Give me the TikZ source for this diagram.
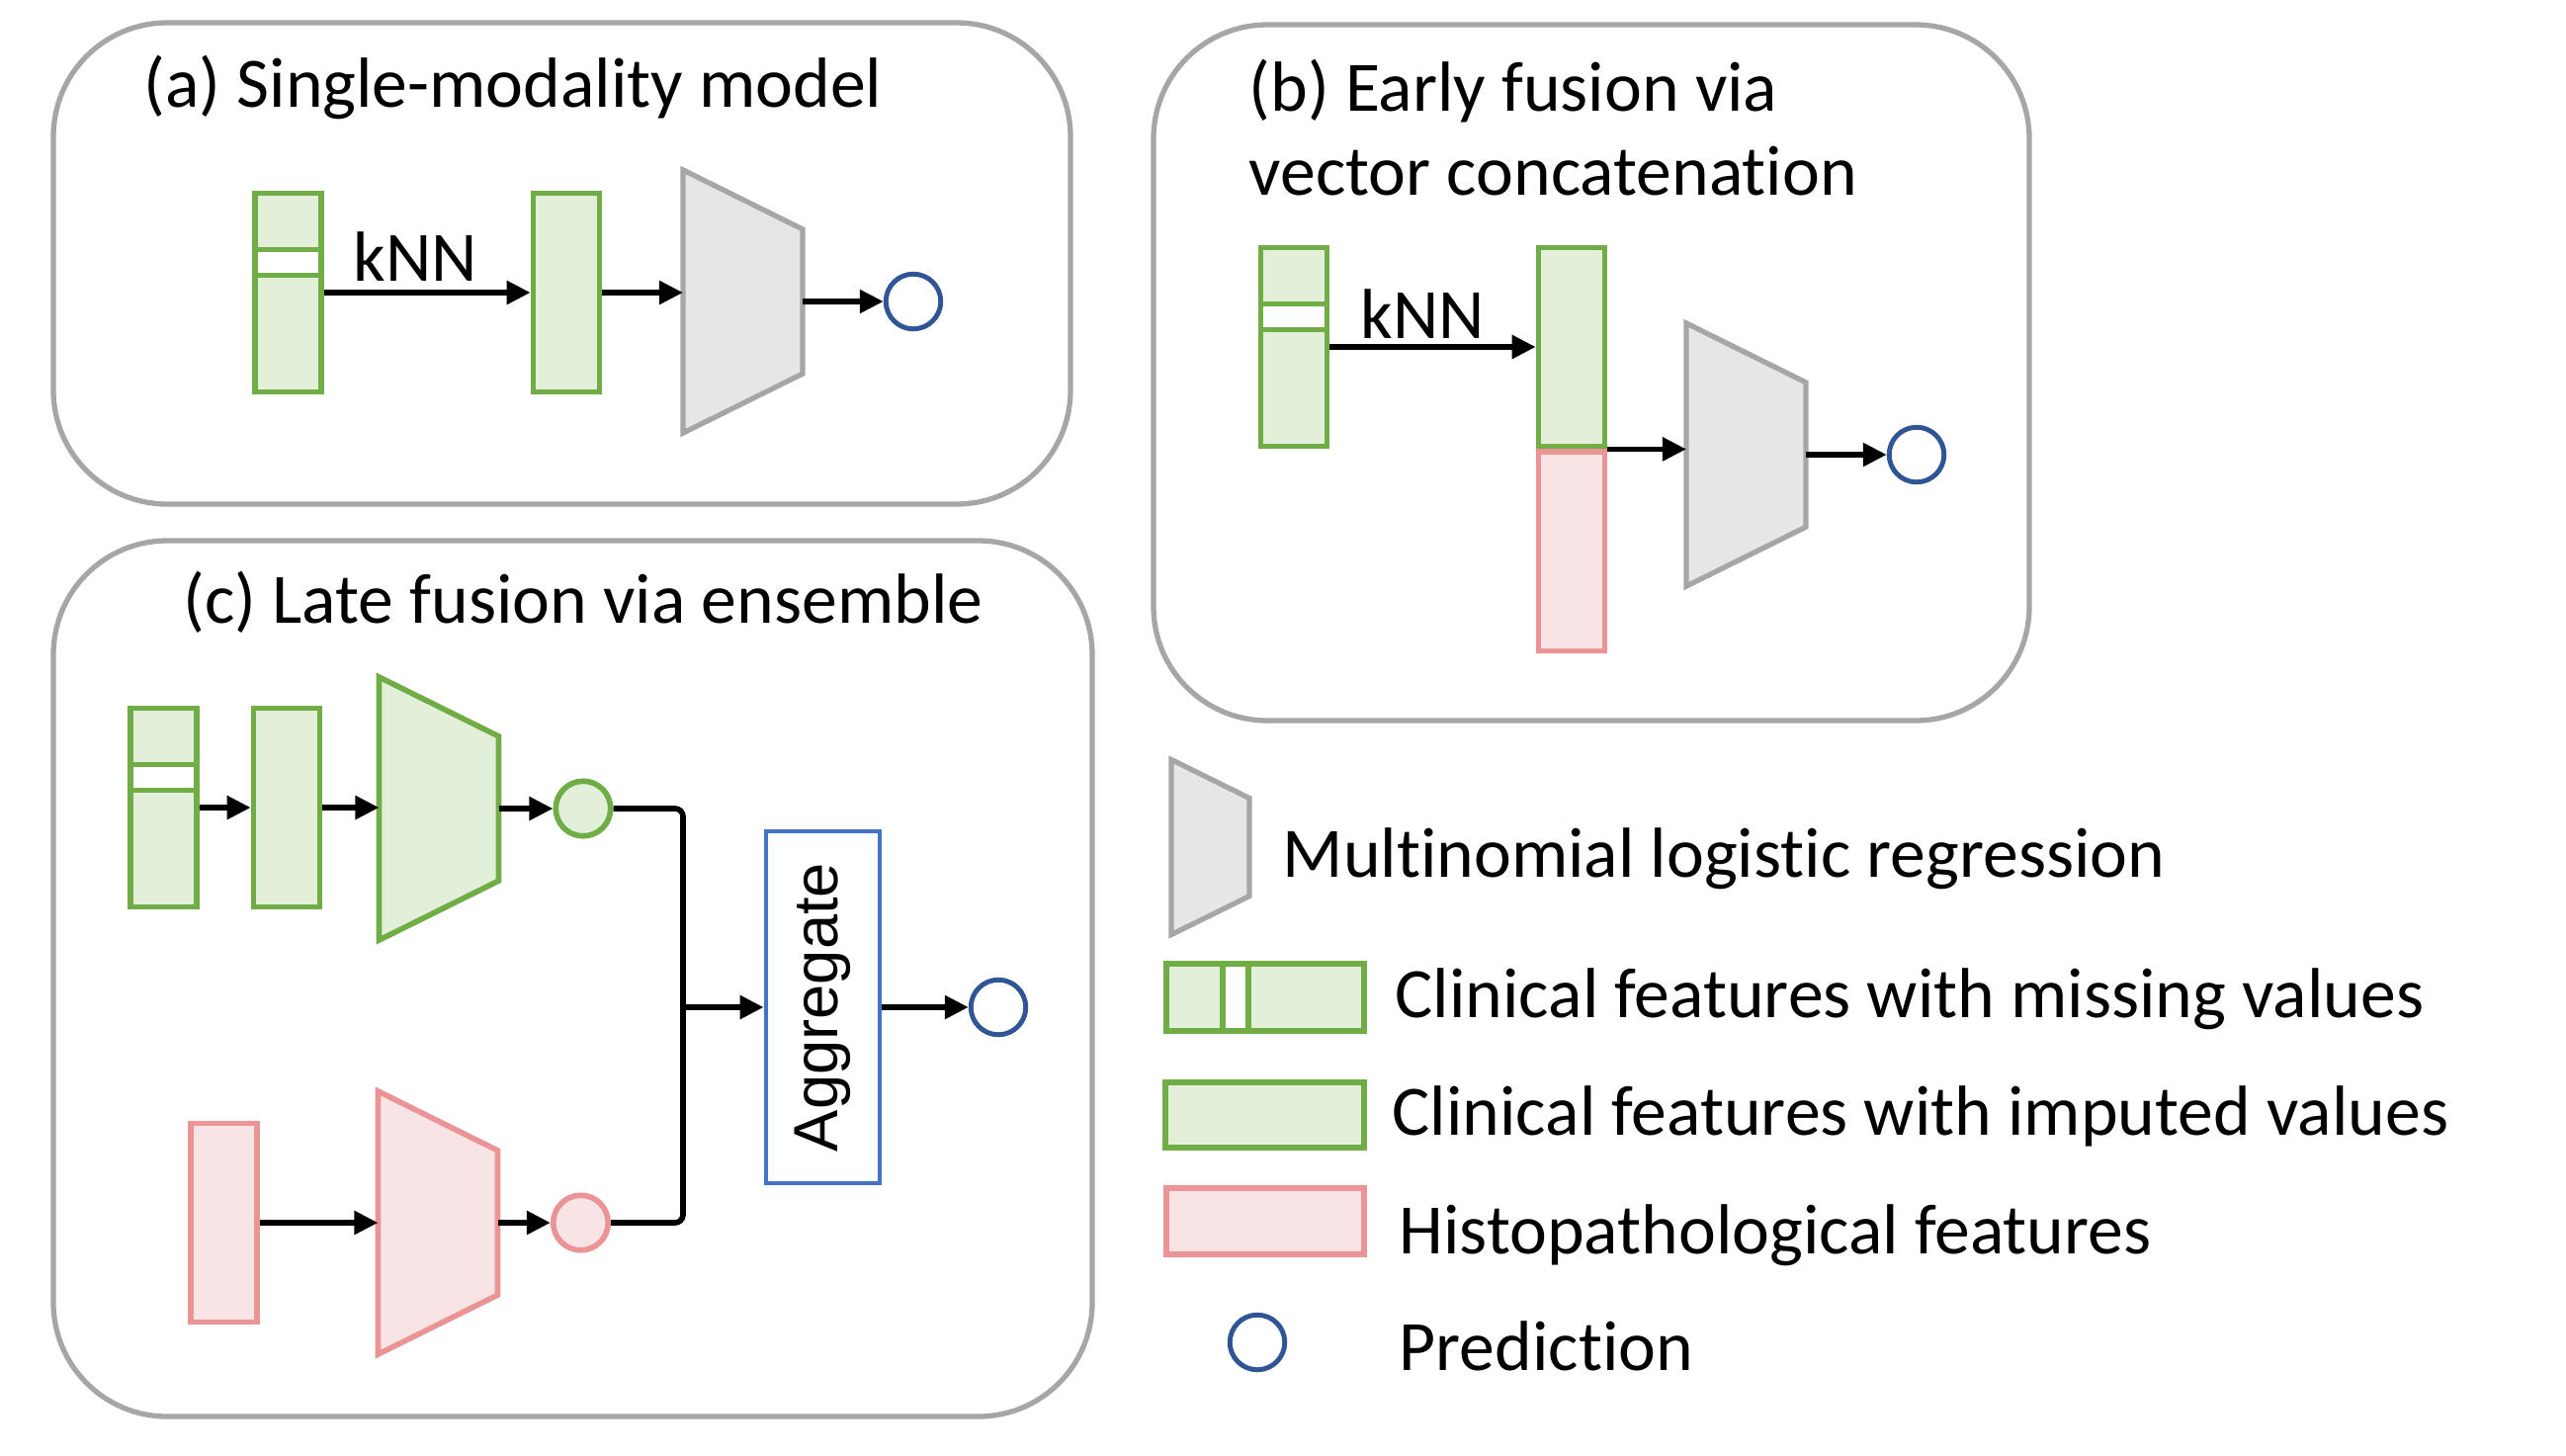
\documentclass[tikz,border=0pt]{standalone}
\usepackage{fontspec}
\setmainfont{Carlito}[Ligatures=NoCommon]
\newfontfamily\aggfont{Liberation Sans}
\usepackage{graphicx}
\usepackage{tikz}
\usetikzlibrary{arrows.meta, calc, positioning}
\definecolor{featgreen}{RGB}{112,173,71}
\definecolor{featfill}{RGB}{226,240,217}
\definecolor{histored}{RGB}{234,148,150}
\definecolor{histofill}{RGB}{248,228,229}
\definecolor{mlrgray}{RGB}{166,166,166}
\definecolor{mlrfill}{RGB}{230,230,230}
\definecolor{predblue}{RGB}{47,85,151}
\definecolor{aggblue}{RGB}{68,114,196}
\tikzset{
    panel/.style = {draw=mlrgray, line width=1.5pt, rounded corners=1.15cm},
    feat/.style = {rectangle, draw=featgreen, fill=featfill, line width=1.6pt,
                   inner sep=0pt, minimum width=0.67cm, minimum height=2.01cm},
    missing/.style = {feat, path picture={\draw[featgreen, line width=1.6pt, fill=white]
        ($(path picture bounding box.north west)+(-0.05cm,-0.57cm)$) rectangle
        ($(path picture bounding box.north east)+(0.05cm,-0.83cm)$);}},
    missingh/.style = {feat, path picture={\draw[featgreen, line width=1.6pt, fill=white]
        ($(path picture bounding box.north west)+(0.57cm,0.05cm)$) rectangle
        ($(path picture bounding box.south west)+(0.83cm,-0.05cm)$);}},
    histo/.style = {feat, draw=histored, fill=histofill},
    trapbox/.style = {rectangle, inner sep=0pt, outer sep=0pt,
                      minimum width=1.21cm, minimum height=2.66cm},
    mlr/.style = {draw=mlrgray, fill=mlrfill, line width=1.5pt},
    mlrg/.style = {draw=featgreen, fill=featfill, line width=1.6pt},
    mlrh/.style = {draw=histored, fill=histofill, line width=1.6pt},
    pred/.style = {circle, draw=predblue, line width=1.4pt, inner sep=0pt, minimum size=0.555cm},
    probg/.style = {pred, draw=featgreen, fill=featfill, line width=1.6pt},
    probh/.style = {pred, draw=histored, fill=histofill, line width=1.6pt},
    agg/.style = {rectangle, draw=aggblue, line width=1.35pt, inner sep=0pt,
                  minimum width=1.15cm, minimum height=3.56cm,
                  font=\aggfont\fontsize{18}{18}\selectfont},
    lbl/.style = {anchor=base west, inner sep=0pt}
    }

\begin{document}
\begin{tikzpicture}[
      x = 0.01cm, y = -0.01cm, % one unit per pixel, y down
      arr/.style = {-{Triangle[length=0.24cm, width=0.23cm]}, line width=1.6pt}, % arrow style
      font = \fontsize{20.4}{24.5}\selectfont
    ]
    \useasboundingbox (0,0) rectangle (2596,1472);

    % (a)
    \draw[panel] (54,23) rectangle (1083,510);
    \node[lbl] (ta) at (145,108) {(a) Single-modality model};
    \node[missing] (a1) at (291.5,296) {};
    \node[feat] (a2) at (573,296) {};
    \node[trapbox] (a3) at (751.5,305) {};
    \draw[mlr] (a3.north west) -- ($(a3.north east)+(0,60)$) -- ($(a3.south east)+(0,-60)$) -- (a3.south west) -- cycle;
    \node[pred] (a4) at (924,305) {};
    \node[lbl] (ka) at (357,284) {kNN};

    \path[arr] (a1) edge (a2);
    \path[arr] (a2) edge (a2 -| a3.west);
    \path[arr] (a3) edge (a4);

    % (b)
    \draw[panel] (1167,25) rectangle (2053,729);
    \node[lbl] (tb) at (1263,112) {(b) Early fusion via};
    \node[lbl] (tb2) at (1263,197) {vector concatenation};
    \node[missing] (b1) at (1309,351) {};
    \node[feat] (b2) at (1590,351) {};
    \node[histo, below=0pt of b2] (b2p) {};
    \node[trapbox] (b3) at (1766.5,460) {};
    \draw[mlr] (b3.north west) -- ($(b3.north east)+(0,60)$) -- ($(b3.south east)+(0,-60)$) -- (b3.south west) -- cycle;
    \node[pred] (b4) at (1939,460) {};
    \node[lbl] (kb) at (1376,342) {kNN};

    \path[arr] (b1) edge (b2);
    \path[arr] (b2.south east) edge (b2.south east -| b3.west);
    \path[arr] (b3) edge (b4);

    % (c)
    \draw[panel] (54,547) rectangle (1105,1433);
    \node[lbl] (tc) at (185,630) {(c) Late fusion via ensemble};
    \node[missing] (c1) at (165.5,817) {};
    \node[feat] (c2) at (290,817) {};
    \node[trapbox] (c3) at (444,818) {};
    \draw[mlrg] (c3.north west) -- ($(c3.north east)+(0,60)$) -- ($(c3.south east)+(0,-60)$) -- (c3.south west) -- cycle;
    \node[probg] (c4) at (590,818) {};
    \node[histo] (c5) at (226.5,1237) {};
    \node[trapbox] (c6) at (443,1237) {};
    \draw[mlrh] (c6.north west) -- ($(c6.north east)+(0,60)$) -- ($(c6.south east)+(0,-60)$) -- (c6.south west) -- cycle;
    \node[probh] (c7) at (587.5,1237) {};
    \coordinate (j) at (691,1019);
    \node[agg] (c8) at (832.5,1019) {\rotatebox{90}{Aggregate}};
    \node[pred] (c9) at (1010,1019) {};

    \path[arr] (c1) edge (c2);
    \path[arr] (c2) edge (c2 -| c3.west);
    \path[arr] (c3) edge (c4);
    \path[arr] (c5) edge (c5 -| c6.west);
    \path[arr] (c6) edge (c7);
    \draw[line width=1.6pt, rounded corners=0.08cm] (c4) -| (j);
    \draw[line width=1.6pt, rounded corners=0.08cm] (c7) -| (j);
    \path[arr] (j) edge (c8);
    \path[arr] (c8) edge (c9);

    % legend
    \node[trapbox, minimum width=0.79cm, minimum height=1.77cm] (l1) at (1224.5,857) {};
    \draw[mlr] (l1.north west) -- ($(l1.north east)+(0,39)$) -- ($(l1.south east)+(0,-39)$) -- (l1.south west) -- cycle;
    \node[missingh, minimum width=2cm, minimum height=0.68cm] (l2) at (1280,1009) {};
    \node[feat, minimum width=2.01cm, minimum height=0.66cm] (l3) at (1279.5,1128) {};
    \node[histo, minimum width=2cm, minimum height=0.67cm] (l4) at (1280,1235.5) {};
    \node[pred] (l5) at (1272,1358) {};

    \node[lbl] at (1297,887) {Multinomial logistic regression};
    \node[lbl] at (1411,1029) {Clinical features with missing values};
    \node[lbl] at (1408,1148) {Clinical features with imputed values};
    \node[lbl] at (1415,1268) {Histopathological features};
    \node[lbl] at (1415,1386) {Prediction};

\end{tikzpicture}
\end{document}
